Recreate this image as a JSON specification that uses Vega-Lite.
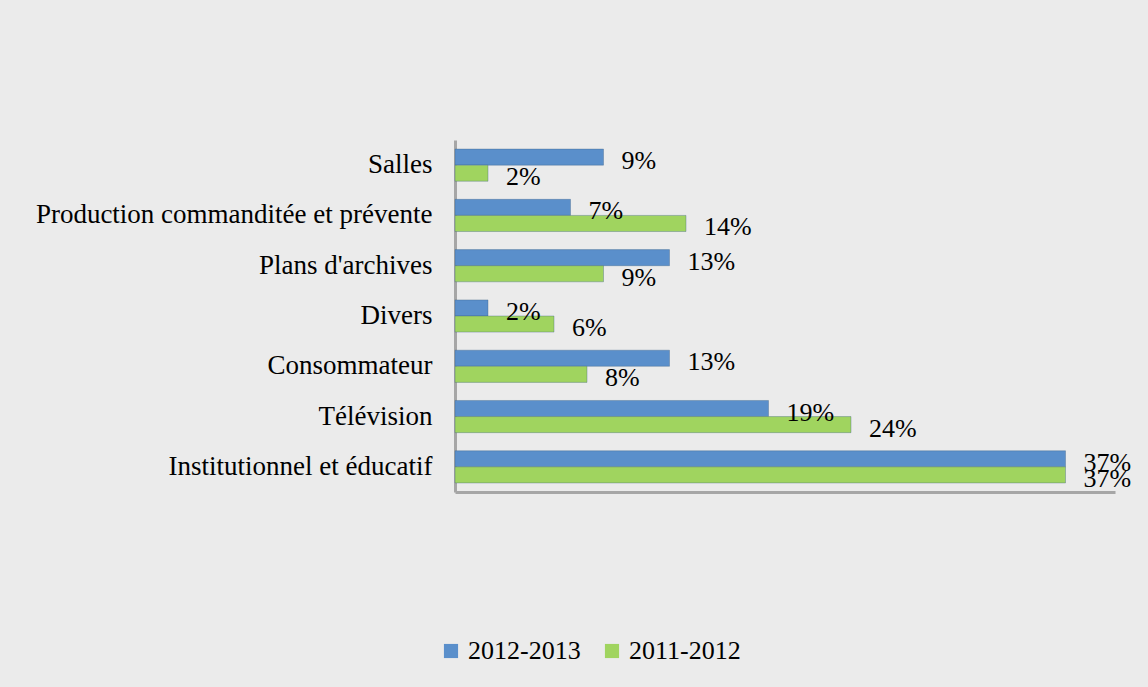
{
  "$schema": "https://vega.github.io/schema/vega-lite/v6.json",
  "autosize": {"type": "none"},
  "width": 660,
  "height": 352,
  "padding": {"left": 455, "top": 140, "right": 33, "bottom": 195},
  "background": "#ebebeb",
  "config": {
    "view": {"stroke": null},
    "font": "Liberation Serif",
    "text": {"font": "Liberation Serif", "fontSize": 26},
    "mark": {"font": "Liberation Serif"}
  },
  "data": {
    "values": [
      {"categorie": "Salles", "periode": "2012-2013", "valeur": 0.09},
      {"categorie": "Salles", "periode": "2011-2012", "valeur": 0.02},
      {"categorie": "Production commanditée et prévente", "periode": "2012-2013", "valeur": 0.07},
      {"categorie": "Production commanditée et prévente", "periode": "2011-2012", "valeur": 0.14},
      {"categorie": "Plans d'archives", "periode": "2012-2013", "valeur": 0.13},
      {"categorie": "Plans d'archives", "periode": "2011-2012", "valeur": 0.09},
      {"categorie": "Divers", "periode": "2012-2013", "valeur": 0.02},
      {"categorie": "Divers", "periode": "2011-2012", "valeur": 0.06},
      {"categorie": "Consommateur", "periode": "2012-2013", "valeur": 0.13},
      {"categorie": "Consommateur", "periode": "2011-2012", "valeur": 0.08},
      {"categorie": "Télévision", "periode": "2012-2013", "valeur": 0.19},
      {"categorie": "Télévision", "periode": "2011-2012", "valeur": 0.24},
      {"categorie": "Institutionnel et éducatif", "periode": "2012-2013", "valeur": 0.37},
      {"categorie": "Institutionnel et éducatif", "periode": "2011-2012", "valeur": 0.37}
    ]
  },
  "encoding": {
    "y": {
      "field": "categorie",
      "type": "nominal",
      "sort": ["Salles", "Production commanditée et prévente", "Plans d'archives", "Divers", "Consommateur", "Télévision", "Institutionnel et éducatif"],
      "scale": {"paddingInner": 0.36, "paddingOuter": 0.18},
      "axis": {
        "title": null,
        "ticks": false,
        "labelFontSize": 27,
        "labelFont": "Liberation Serif",
        "labelColor": "#000000",
        "labelPadding": 23,
        "domainColor": "#a6a6a6",
        "domainWidth": 3,
        "labelLimit": 600
      }
    },
    "yOffset": {
      "field": "periode",
      "type": "nominal",
      "sort": ["2012-2013", "2011-2012"]
    },
    "x": {
      "field": "valeur",
      "type": "quantitative",
      "scale": {"domain": [0, 0.4]},
      "axis": {
        "title": null,
        "labels": false,
        "ticks": false,
        "grid": false,
        "domainColor": "#a6a6a6",
        "domainWidth": 3
      }
    }
  },
  "layer": [
    {
      "mark": {"type": "bar", "stroke": "#3a5f85", "strokeWidth": 0.6, "strokeOpacity": 0.6},
      "encoding": {
        "color": {
          "field": "periode",
          "type": "nominal",
          "sort": ["2012-2013", "2011-2012"],
          "scale": {"domain": ["2012-2013", "2011-2012"], "range": ["#5a8fcb", "#a0d45f"]},
          "legend": {
            "title": null,
            "orient": "none",
            "direction": "horizontal",
            "legendX": -17,
            "legendY": 498,
            "symbolType": "square",
            "symbolSize": 200,
            "symbolStrokeWidth": 0,
            "labelFontSize": 26,
            "labelFont": "Liberation Serif",
            "labelColor": "#000000",
            "columnPadding": 18,
            "labelOffset": 4
          }
        }
      }
    },
    {
      "mark": {"type": "text", "align": "left", "baseline": "middle", "dx": 18, "dy": 4, "fontSize": 26, "font": "Liberation Serif", "color": "#000000"},
      "encoding": {
        "text": {"field": "valeur", "type": "quantitative", "format": ".0%"}
      }
    }
  ]
}
